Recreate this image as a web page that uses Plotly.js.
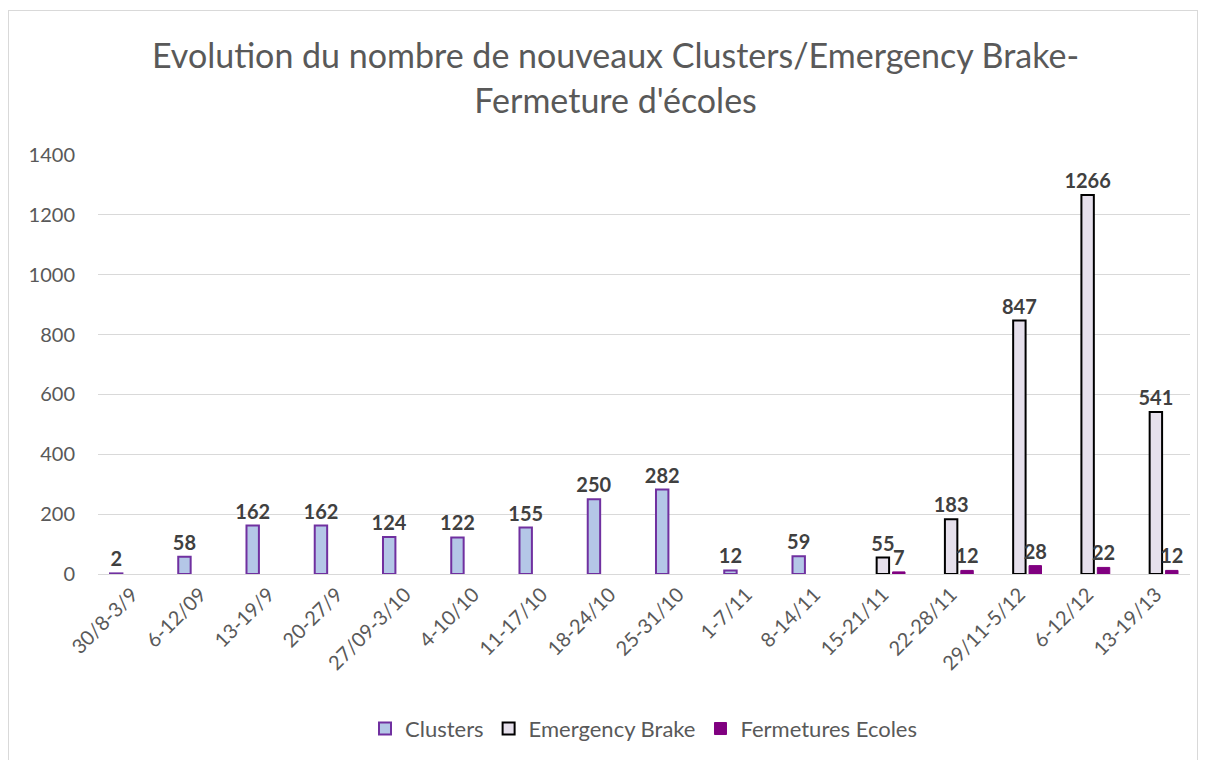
<!DOCTYPE html>
<html>
<head>
<meta charset="utf-8">
<script src="https://cdn.plot.ly/plotly-3.0.1.min.js"></script>
<style>
  body { margin: 0; background: #fff; }
  #frame { position: absolute; left: 8px; top: 10px; width: 1190px; height: 760px; border: 1px solid #d9d9d9; box-sizing: border-box; }
  #chart { position: absolute; left: 0; top: 0; width: 1207px; height: 760px; }
</style>
</head>
<body>
<div id="frame"></div>
<div id="chart"></div>
<script>
var weeks = ['30/8-3/9', '6-12/09', '13-19/9', '20-27/9', '27/09-3/10', '4-10/10', '11-17/10',
  '18-24/10', '25-31/10', '1-7/11', '8-14/11', '15-21/11', '22-28/11', '29/11-5/12', '6-12/12', '13-19/13'];

var clusters = [2, 58, 162, 162, 124, 122, 155, 250, 282, 12, 59, null, null, null, null, null];
var emergencyBrake = [null, null, null, null, null, null, null, null, null, null, null, 55, 183, 847, 1266, 541];
var fermetures = [null, null, null, null, null, null, null, null, null, null, null, 7, 12, 28, 22, 12];

var labelFont = {family: 'Lato, "Open Sans", sans-serif', size: 20, color: '#404040', weight: 'bold'};

function labels(vals) {
  return vals.map(function(v) { return v == null ? '' : String(v); });
}

var data = [
  {
    name: 'Clusters', type: 'bar', x: weeks, y: clusters,
    marker: {color: '#b4c7e7', line: {color: '#7030a0', width: 2}},
    text: labels(clusters), textposition: 'outside', constraintext: 'none',
    textfont: labelFont, cliponaxis: false
  },
  {
    name: 'Emergency Brake', type: 'bar', x: weeks, y: emergencyBrake,
    marker: {color: '#e6e0ec', line: {color: '#000000', width: 2}},
    text: labels(emergencyBrake), textposition: 'outside', constraintext: 'none',
    textfont: labelFont, cliponaxis: false
  },
  {
    name: 'Fermetures Ecoles', type: 'bar', x: weeks, y: fermetures,
    marker: {color: '#800080', line: {color: '#800080', width: 1}},
    text: labels(fermetures), textposition: 'outside', constraintext: 'none',
    textfont: labelFont, cliponaxis: false
  }
];

var layout = {
  width: 1207, height: 760,
  paper_bgcolor: 'rgba(0,0,0,0)', plot_bgcolor: 'rgba(0,0,0,0)',
  font: {family: 'Lato, "Open Sans", sans-serif', color: '#595959', size: 20},
  title: {
    text: "Evolution du nombre de nouveaux Clusters/Emergency Brake-<br>Fermeture d'écoles",
    font: {size: 34, color: '#595959'}, x: 0.51, xanchor: 'center', y: 0.91, yanchor: 'middle'
  },
  margin: {l: 98, r: 17, t: 155, b: 185},
  barmode: 'group', bargap: 0.3, bargroupgap: 0.22,
  showlegend: true,
  legend: {orientation: 'h', x: 0.5, xanchor: 'center', y: -0.366, yanchor: 'middle',
    font: {size: 22, color: '#595959'}},
  xaxis: {
    type: 'category', tickangle: -45, showgrid: false, showline: true,
    linecolor: '#d9d9d9', linewidth: 1, ticks: '', tickfont: {size: 20, color: '#595959'}
  },
  yaxis: {
    range: [0, 1400], dtick: 200, gridcolor: '#d9d9d9', gridwidth: 1, zeroline: false,
    showline: false, ticks: '', ticklabelstandoff: 22, tickfont: {size: 20, color: '#595959'}
  }
};

Plotly.newPlot('chart', data, layout, {displayModeBar: false});
</script>
</body>
</html>
